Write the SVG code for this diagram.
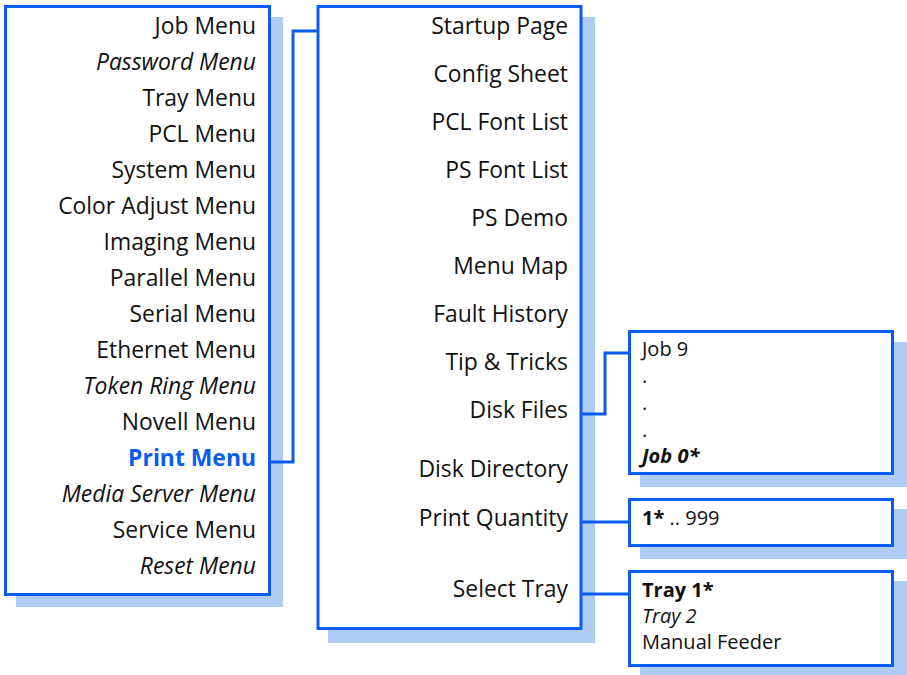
<svg xmlns="http://www.w3.org/2000/svg" width="907" height="675" viewBox="0 0 907 675">
<style>
.sh{fill:#b0ccf5}
.bx{fill:#fff;stroke:#0a5cf0;stroke-width:3}
.cn{fill:none;stroke:#0a5cf0;stroke-width:3}
text{font-family:"Open Sans","Liberation Sans",sans-serif;font-size:22.9px;fill:#111}
.r{text-anchor:end}
.s{font-size:20px}
.i{font-style:italic}
.b{font-weight:bold}
.hl{fill:#0a5cf0;font-weight:bold}
</style>
<g id="main-menu">
<rect class="sh" x="16" y="17" width="267" height="590"/>
<rect class="bx" x="5.5" y="6.5" width="264" height="588"/>
<text class="r" x="256" y="34">Job Menu</text>
<text class="r i" x="256" y="70">Password Menu</text>
<text class="r" x="256" y="106">Tray Menu</text>
<text class="r" x="256" y="142">PCL Menu</text>
<text class="r" x="256" y="178">System Menu</text>
<text class="r" x="256" y="214">Color Adjust Menu</text>
<text class="r" x="256" y="250">Imaging Menu</text>
<text class="r" x="256" y="286">Parallel Menu</text>
<text class="r" x="256" y="322">Serial Menu</text>
<text class="r" x="256" y="358">Ethernet Menu</text>
<text class="r i" x="256" y="394">Token Ring Menu</text>
<text class="r" x="256" y="430">Novell Menu</text>
<text class="r hl" x="256" y="466">Print Menu</text>
<text class="r i" x="256" y="502">Media Server Menu</text>
<text class="r" x="256" y="538">Service Menu</text>
<text class="r i" x="256" y="574">Reset Menu</text>
</g>
<g id="print-menu">
<rect class="sh" x="328" y="17" width="267" height="626"/>
<rect class="bx" x="318" y="6.5" width="263" height="622"/>
<text class="r" x="568" y="34">Startup Page</text>
<text class="r" x="568" y="82">Config Sheet</text>
<text class="r" x="568" y="130">PCL Font List</text>
<text class="r" x="568" y="178">PS Font List</text>
<text class="r" x="568" y="226">PS Demo</text>
<text class="r" x="568" y="274">Menu Map</text>
<text class="r" x="568" y="322">Fault History</text>
<text class="r" x="568" y="370">Tip &amp; Tricks</text>
<text class="r" x="568" y="418">Disk Files</text>
<text class="r" x="568" y="477">Disk Directory</text>
<text class="r" x="568" y="526">Print Quantity</text>
<text class="r" x="568" y="597">Select Tray</text>
</g>
<g id="disk-files">
<rect class="sh" x="640" y="342" width="267" height="145"/>
<rect class="bx" x="629.5" y="331.5" width="263" height="142"/>
<text class="s" x="642" y="356">Job 9</text>
<text class="s" x="642" y="383">.</text>
<text class="s" x="642" y="410">.</text>
<text class="s" x="642" y="437">.</text>
<text class="s b i" x="642" y="463">Job 0*</text>
</g>
<g id="print-quantity">
<rect class="sh" x="640" y="509" width="267" height="50"/>
<rect class="bx" x="629.5" y="499.5" width="263" height="46"/>
<text class="s" x="642" y="525"><tspan class="b">1*</tspan> .. 999</text>
</g>
<g id="select-tray">
<rect class="sh" x="640" y="581" width="267" height="100"/>
<rect class="bx" x="629.5" y="571.5" width="263" height="94"/>
<text class="s b" x="642" y="597">Tray 1*</text>
<text class="s i" x="642" y="623">Tray 2</text>
<text class="s" x="642" y="649">Manual Feeder</text>
</g>
<g id="connectors">
<path class="cn" d="M270,462 H293 V31 H318"/>
<path class="cn" d="M582,414 H605 V353 H629"/>
<path class="cn" d="M582,522 H629"/>
<path class="cn" d="M582,594 H629"/>
</g>
</svg>
